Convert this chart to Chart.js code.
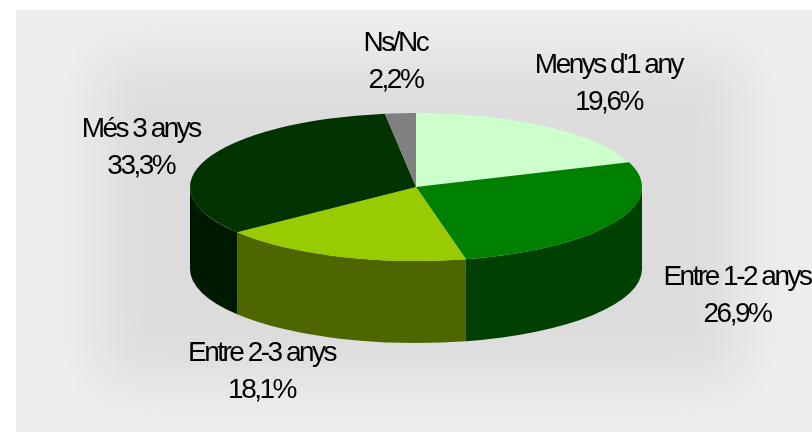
<!DOCTYPE html>
<html>
<head>
<meta charset="utf-8">
<script src="https://cdn.jsdelivr.net/npm/chart.js@4"></script>
<style>
  html, body { margin: 0; padding: 0; background: #fff; }
  #wrap { width: 812px; height: 432px; }
</style>
</head>
<body>
<div id="wrap"><canvas id="pieChart" width="812" height="432"></canvas></div>
<script>
const categories = ["Menys d'1 any", 'Entre 1-2 anys', 'Entre 2-3 anys', 'Més 3 anys', 'Ns/Nc'];
const percentages = [19.6, 26.9, 18.1, 33.3, 2.2];

const topColors = ['#ccffcc', '#008000', '#99cc00', '#003300', '#808080'];
const sideColors = ['#99cc99', '#004000', '#4d6600', '#001a00', '#404040'];

// tilted ellipse of the top face, and height of the wall (screen px)
const tilt = { rx: 226, ry: 74, depth: 82 };
// label offset from the rim point at each slice's mid angle
const labelNudge = [[62, -54], [123, -20], [-78, 22], [-66, -22], [-5, -62]];

function fmt(v) {
  return v.toFixed(1).replace('.', ',') + '%';
}

const pie3d = {
  id: 'pie3d',
  beforeDraw(chart) {
    const ctx = chart.ctx;
    ctx.save();
    ctx.fillStyle = '#ffffff';
    ctx.fillRect(0, 0, chart.width, chart.height);
    ctx.fillStyle = '#eeeeee';
    ctx.fillRect(16, 10, chart.width - 16, chart.height - 10);
    ctx.filter = 'blur(28px)';
    ctx.fillStyle = '#dcdcdc';
    ctx.fillRect(100, 60, 640, 320);
    ctx.restore();
  },
  beforeDatasetsDraw(chart) {
    const ctx = chart.ctx;
    const arcs = chart.getDatasetMeta(0).data;
    const el0 = arcs[0];
    const r = el0.outerRadius;
    ctx.save();
    // squash the round pie into the tilted ellipse
    ctx.translate(el0.x, el0.y);
    ctx.scale(tilt.rx / r, tilt.ry / r);
    ctx.translate(-el0.x, -el0.y);
    const d = tilt.depth * r / tilt.ry;
    arcs.forEach((el, i) => {
      const s = Math.max(el.startAngle, 0);
      const e = Math.min(el.endAngle, Math.PI);
      if (e <= s) return;
      ctx.beginPath();
      ctx.arc(el.x, el.y, el.outerRadius, s, e);
      ctx.arc(el.x, el.y + d, el.outerRadius, e, s, true);
      ctx.closePath();
      ctx.fillStyle = sideColors[i];
      ctx.fill();
    });
  },
  afterDatasetsDraw(chart) {
    const ctx = chart.ctx;
    ctx.restore();
    const arcs = chart.getDatasetMeta(0).data;
    ctx.save();
    ctx.font = '28px "Liberation Sans", Arial, sans-serif';
    ctx.letterSpacing = '-2.5px';
    ctx.fillStyle = '#000';
    ctx.textAlign = 'center';
    arcs.forEach((el, i) => {
      const mid = (el.startAngle + el.endAngle) / 2;
      let px = el.x + tilt.rx * Math.cos(mid);
      let py = el.y + tilt.ry * Math.sin(mid);
      if (Math.sin(mid) > 0) py += tilt.depth;
      const x = px + labelNudge[i][0];
      const y = py + labelNudge[i][1];
      ctx.fillText(categories[i], x, y);
      ctx.fillText(fmt(percentages[i]), x, y + 37);
    });
    ctx.restore();
  }
};

new Chart(document.getElementById('pieChart'), {
  type: 'pie',
  data: {
    labels: categories,
    datasets: [{
      data: percentages,
      backgroundColor: topColors,
      borderWidth: 0,
      hoverOffset: 0,
      clip: false
    }]
  },
  options: {
    responsive: false,
    animation: false,
    events: [],
    layout: {
      padding: { left: 20, right: 0, top: 0, bottom: 58 }
    },
    plugins: {
      legend: { display: false },
      tooltip: { enabled: false }
    }
  },
  plugins: [pie3d]
});
</script>
</body>
</html>
